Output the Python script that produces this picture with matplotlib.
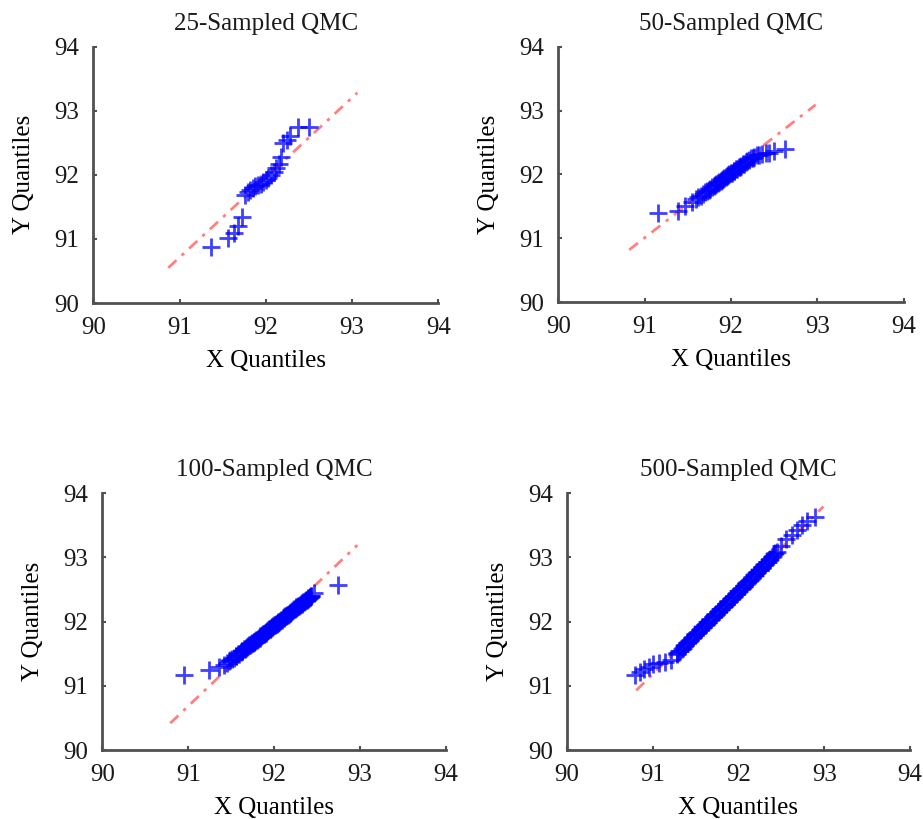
"""QQ plots for the QMC sample-size comparison (25, 50, 100, 500 samples)."""
import matplotlib
matplotlib.use("Agg")
import matplotlib.pyplot as plt

TITLES = ["25-Sampled QMC", "50-Sampled QMC", "100-Sampled QMC", "500-Sampled QMC"]
TICKS = [90, 91, 92, 93, 94]

# 25 samples
x25 = [91.37, 91.56, 91.63, 91.68, 91.72, 91.76, 91.79, 91.82, 91.85, 91.88,
       91.91, 91.94, 91.97, 92.00, 92.03, 92.06, 92.09, 92.12, 92.15, 92.18,
       92.20, 92.24, 92.28, 92.37, 92.50]
y25 = [90.88, 91.02, 91.10, 91.20, 91.35, 91.68, 91.73, 91.76, 91.79, 91.82,
       91.84, 91.86, 91.89, 91.92, 91.95, 92.00, 92.05, 92.10, 92.17, 92.28,
       92.50, 92.54, 92.60, 92.74, 92.74]
ref25 = ([90.87, 93.06], [90.55, 93.28])

# 50 samples
x50 = [91.15, 91.38, 91.47, 91.55, 91.59, 91.62, 91.65, 91.68, 91.70, 91.72,
       91.74, 91.76, 91.78, 91.80, 91.81, 91.83, 91.85, 91.86, 91.88, 91.89,
       91.91, 91.92, 91.94, 91.95, 91.97, 91.98, 92.00, 92.01, 92.03, 92.04,
       92.06, 92.07, 92.09, 92.10, 92.12, 92.14, 92.15, 92.17, 92.19, 92.21,
       92.23, 92.25, 92.27, 92.30, 92.33, 92.36, 92.40, 92.44, 92.50, 92.63]
y50 = [91.40, 91.42, 91.50, 91.57, 91.61, 91.64, 91.67, 91.70, 91.72, 91.74,
       91.76, 91.78, 91.80, 91.82, 91.83, 91.85, 91.87, 91.88, 91.90, 91.91,
       91.93, 91.94, 91.96, 91.97, 91.99, 92.00, 92.02, 92.03, 92.05, 92.06,
       92.08, 92.09, 92.11, 92.12, 92.14, 92.16, 92.17, 92.19, 92.21, 92.23,
       92.25, 92.26, 92.28, 92.30, 92.31, 92.32, 92.33, 92.34, 92.36, 92.40]
ref50 = ([90.82, 92.98], [90.82, 93.09])

# 100 samples
x100 = [90.95, 91.24, 91.36, 91.42,
        91.45, 91.47, 91.49, 91.51, 91.53, 91.55, 91.56, 91.58, 91.59, 91.61,
        91.62, 91.63, 91.65, 91.66, 91.67, 91.68, 91.70, 91.71, 91.72, 91.73,
        91.74, 91.75, 91.76, 91.77, 91.78, 91.79, 91.80, 91.81, 91.82, 91.83,
        91.84, 91.85, 91.86, 91.87, 91.88, 91.88, 91.89, 91.90, 91.91, 91.92,
        91.93, 91.94, 91.95, 91.95, 91.96, 91.97, 91.98, 91.99, 92.00, 92.01,
        92.02, 92.03, 92.04, 92.05, 92.06, 92.07, 92.08, 92.09, 92.10, 92.11,
        92.12, 92.13, 92.14, 92.15, 92.16, 92.17, 92.18, 92.19, 92.20, 92.21,
        92.22, 92.23, 92.24, 92.25, 92.26, 92.27, 92.28, 92.29, 92.30, 92.31,
        92.32, 92.33, 92.34, 92.35, 92.36, 92.37, 92.38, 92.39, 92.40, 92.41,
        92.42, 92.42, 92.43, 92.43,
        92.47, 92.74]
y100 = [91.17, 91.25, 91.30, 91.33,
        91.36, 91.38, 91.40, 91.42, 91.44, 91.46, 91.47, 91.49, 91.50, 91.52,
        91.54, 91.55, 91.57, 91.58, 91.59, 91.60, 91.62, 91.63, 91.64, 91.65,
        91.66, 91.67, 91.68, 91.69, 91.70, 91.71, 91.72, 91.73, 91.74, 91.75,
        91.77, 91.78, 91.79, 91.80, 91.81, 91.81, 91.82, 91.83, 91.84, 91.85,
        91.87, 91.88, 91.89, 91.89, 91.90, 91.91, 91.92, 91.93, 91.94, 91.95,
        91.96, 91.97, 91.98, 91.99, 92.00, 92.01, 92.02, 92.03, 92.05, 92.06,
        92.07, 92.08, 92.09, 92.10, 92.11, 92.12, 92.13, 92.14, 92.15, 92.16,
        92.18, 92.19, 92.20, 92.21, 92.22, 92.23, 92.24, 92.25, 92.26, 92.27,
        92.28, 92.29, 92.30, 92.31, 92.32, 92.33, 92.34, 92.35, 92.36, 92.37,
        92.39, 92.39, 92.40, 92.40,
        92.44, 92.57]
ref100 = ([90.79, 92.97], [90.42, 93.19])

x500 = [90.80, 90.85, 90.90, 90.96, 91.00, 91.08, 91.15, 91.22,
        91.28, 91.29, 91.31, 91.32, 91.34, 91.35, 91.37, 91.38, 91.40, 91.41,
        91.43, 91.44, 91.46, 91.47, 91.49, 91.50, 91.52, 91.53, 91.55, 91.56,
        91.58, 91.59, 91.61, 91.62, 91.64, 91.65, 91.67, 91.68, 91.70, 91.71,
        91.73, 91.74, 91.76, 91.77, 91.79, 91.80, 91.82, 91.83, 91.85, 91.86,
        91.88, 91.89, 91.91, 91.92, 91.94, 91.95, 91.97, 91.98, 92.00, 92.01,
        92.03, 92.04, 92.06, 92.07, 92.09, 92.10, 92.12, 92.13, 92.15, 92.16,
        92.18, 92.19, 92.21, 92.22, 92.24, 92.25, 92.27, 92.28, 92.30, 92.31,
        92.33, 92.34, 92.36, 92.37, 92.39, 92.40, 92.42, 92.43, 92.45,
        92.50, 92.56, 92.62, 92.68, 92.74, 92.80, 92.89]
y500 = [91.17, 91.22, 91.26, 91.30, 91.34, 91.35, 91.37, 91.40,
        91.50, 91.51, 91.54, 91.55, 91.58, 91.59, 91.62, 91.64, 91.66, 91.68,
        91.70, 91.72, 91.74, 91.76, 91.79, 91.80, 91.83, 91.84, 91.87, 91.88,
        91.91, 91.92, 91.95, 91.96, 91.99, 92.00, 92.03, 92.04, 92.07, 92.08,
        92.11, 92.12, 92.15, 92.16, 92.19, 92.20, 92.23, 92.24, 92.27, 92.28,
        92.31, 92.32, 92.35, 92.36, 92.39, 92.40, 92.43, 92.44, 92.47, 92.48,
        92.51, 92.52, 92.55, 92.56, 92.59, 92.61, 92.63, 92.65, 92.67, 92.69,
        92.72, 92.73, 92.76, 92.77, 92.80, 92.81, 92.84, 92.85, 92.88, 92.89,
        92.92, 92.93, 92.96, 92.98, 93.00, 93.02, 93.05, 93.06, 93.09,
        93.17, 93.28, 93.35, 93.43, 93.50, 93.56, 93.62]
ref500 = ([90.81, 92.99], [90.93, 93.79])

# axes rectangles in figure fractions (fig is 923 x 819 px)
POSITIONS = [
    [0.101, 0.630, 0.374, 0.313],
    [0.605, 0.631, 0.374, 0.312],
    [0.111, 0.084, 0.372, 0.314],
    [0.614, 0.084, 0.372, 0.314],
]

SPINE = "#505050"


def qq_panel(ax, x, y, ref, title):
    ax.plot(ref[0], ref[1], ls=(0, (4, 2.5, 1.2, 2.5)), lw=2, color="#ff6a6a",
            alpha=0.85, zorder=1)
    ax.plot(x, y, ls="none", marker="+", ms=13, mew=2.0, color="#0000ff",
            alpha=0.75, zorder=2)
    ax.set_xlim(90, 94); ax.set_ylim(90, 94)
    ax.set_xticks(TICKS); ax.set_yticks(TICKS)
    for side in ("top", "right"):
        ax.spines[side].set_visible(False)
    for side in ("left", "bottom"):
        ax.spines[side].set_color(SPINE); ax.spines[side].set_linewidth(2)
    ax.tick_params(direction="in", length=3, width=1.5, color=SPINE,
                   labelsize=18, pad=10)
    ax.set_title(title, fontsize=18, pad=12)
    ax.set_xlabel("X Quantiles", fontsize=18, labelpad=8)
    ax.set_ylabel("Y Quantiles", fontsize=18, labelpad=14)


def main():
    plt.rcParams["font.family"] = ["Liberation Serif", "DejaVu Serif"]
    plt.rcParams["text.color"] = "#1a1a1a"
    plt.rcParams["xtick.labelcolor"] = "#1a1a1a"
    plt.rcParams["ytick.labelcolor"] = "#1a1a1a"
    fig = plt.figure(figsize=(9.23, 8.19), dpi=100)
    panels = [(x25, y25, ref25), (x50, y50, ref50),
              (x100, y100, ref100), (x500, y500, ref500)]
    for pos, (x, y, ref), title in zip(POSITIONS, panels, TITLES):
        ax = fig.add_axes(pos)
        qq_panel(ax, x, y, ref, title)
    fig.savefig("out.png", dpi=100)
    plt.close(fig)


if __name__ == "__main__":
    main()
